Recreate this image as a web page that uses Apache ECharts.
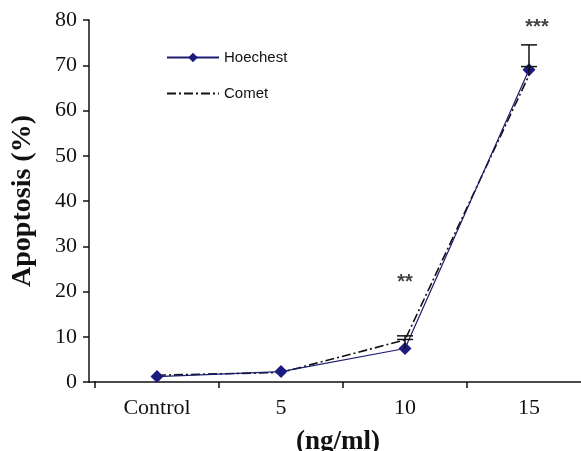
<!DOCTYPE html>
<html><head><meta charset="utf-8">
<script src="https://cdn.jsdelivr.net/npm/echarts@6/dist/echarts.min.js"></script>
<style>html,body{margin:0;padding:0;background:#fff}#c{width:581px;height:451px}</style>
</head><body><div id="c"></div>
<script>
var categories = ['Control', '5', '10', '15'];
var hoechest = [1.2, 2.3, 7.4, 69];
var comet = [1.5, 2.1, 9.3, 67.8];
var hoechestErrHigh = [null, null, 10.2, 74.5];
var cometErrHigh = [null, null, 9.4, 69.7];
var stars = ['', '', '**', '***'];
var starValues = [null, null, 23, 79.5];
var yTicks = [0, 10, 20, 30, 40, 50, 60, 70, 80];

var chart = echarts.init(document.getElementById('c'));
function errItem(params, api) {
  var x = api.value(0), lo = api.value(1), hi = api.value(2);
  if (hi == null || isNaN(hi)) return null;
  var p0 = api.coord([x, lo]), p1 = api.coord([x, hi]);
  var w = 8;
  return {type: 'group', children: [
    {type: 'line', shape: {x1: p0[0], y1: p0[1], x2: p1[0], y2: p1[1]}, style: {stroke: '#111', lineWidth: 1.5}},
    {type: 'line', shape: {x1: p1[0] - w, y1: p1[1], x2: p1[0] + w, y2: p1[1]}, style: {stroke: '#111', lineWidth: 1.5}}
  ]};
}
var errData1 = categories.map(function (c, i) { return [i, hoechest[i], hoechestErrHigh[i]]; }).filter(function (d) { return d[2] != null; });
var errData2 = categories.map(function (c, i) { return [i, comet[i], cometErrHigh[i]]; }).filter(function (d) { return d[2] != null; });
var starData = categories.map(function (c, i) {
  return {value: [i, starValues[i], stars[i]], label: {offset: [i === 3 ? 8 : 0, 5]}};
}).filter(function (d) { return d.value[1] != null; });

chart.setOption({
  animation: false,
  backgroundColor: '#fff',
  grid: {left: 95, top: 20, width: 496, height: 362, containLabel: false, outerBoundsMode: 'none'},
  graphic: [{type: 'line', shape: {x1: 88.5, y1: 382, x2: 96, y2: 382}, style: {stroke: '#111', lineWidth: 1.5}, z: 10}],
  legend: {
    orient: 'vertical', left: 161, top: 45, itemGap: 21, itemWidth: 52, itemHeight: 12,
    textStyle: {fontFamily: 'Liberation Sans Narrow, Liberation Sans, sans-serif', fontSize: 15, color: '#111'},
    data: [{name: 'Hoechest'}, {name: 'Comet', itemStyle: {color: 'rgba(0,0,0,0)', borderWidth: 0}}]
  },
  xAxis: {
    type: 'category', data: categories, boundaryGap: true,
    axisLine: {lineStyle: {color: '#111', width: 1.5}},
    axisTick: {show: true, length: 6, lineStyle: {color: '#111', width: 1.5}},
    axisLabel: {fontFamily: 'Liberation Serif, serif', fontSize: 22, color: '#111', margin: 15},
    name: '(ng/ml)', nameLocation: 'middle', nameGap: 47,
    nameTextStyle: {fontFamily: 'Liberation Serif, serif', fontSize: 27, fontWeight: 'bold', color: '#111', padding: [0, 10, 0, 0]}
  },
  yAxis: {
    type: 'value', min: 0, max: 80, interval: 10, offset: 6,
    axisLine: {show: true, lineStyle: {color: '#111', width: 1.5}},
    axisTick: {show: true, length: 6, lineStyle: {color: '#111', width: 1.5}},
    splitLine: {show: false},
    axisLabel: {fontFamily: 'Liberation Serif, serif', fontSize: 22, color: '#111', margin: 12},
    name: 'Apoptosis (%)', nameLocation: 'middle', nameGap: 52, nameRotate: 90,
    nameTextStyle: {fontFamily: 'Liberation Serif, serif', fontSize: 28, fontWeight: 'bold', color: '#111'}
  },
  series: [
    {
      name: 'Comet', type: 'line', data: comet, symbol: 'none', z: 2,
      lineStyle: {color: '#111', width: 1.6, type: [9, 3, 2, 3]},
      itemStyle: {color: '#111'}
    },
    {
      name: 'Hoechest', type: 'line', data: hoechest, symbol: 'diamond', symbolSize: 13, z: 3,
      lineStyle: {color: '#1c1c6e', width: 1.2},
      itemStyle: {color: '#1c1c80'}
    },
    {type: 'custom', data: errData1, renderItem: errItem, z: 4, encode: {x: 0, y: [1, 2]}},
    {type: 'custom', data: errData2, renderItem: errItem, z: 4, encode: {x: 0, y: [1, 2]}},
    {
      type: 'scatter', data: starData, symbolSize: 0, z: 5, clip: false,
      label: {show: true, position: 'inside', formatter: function (p) { return p.value[2]; },
        fontFamily: 'Liberation Sans, sans-serif', fontSize: 20, fontWeight: 'bold', color: '#111'}
    }
  ]
});
</script></body></html>
